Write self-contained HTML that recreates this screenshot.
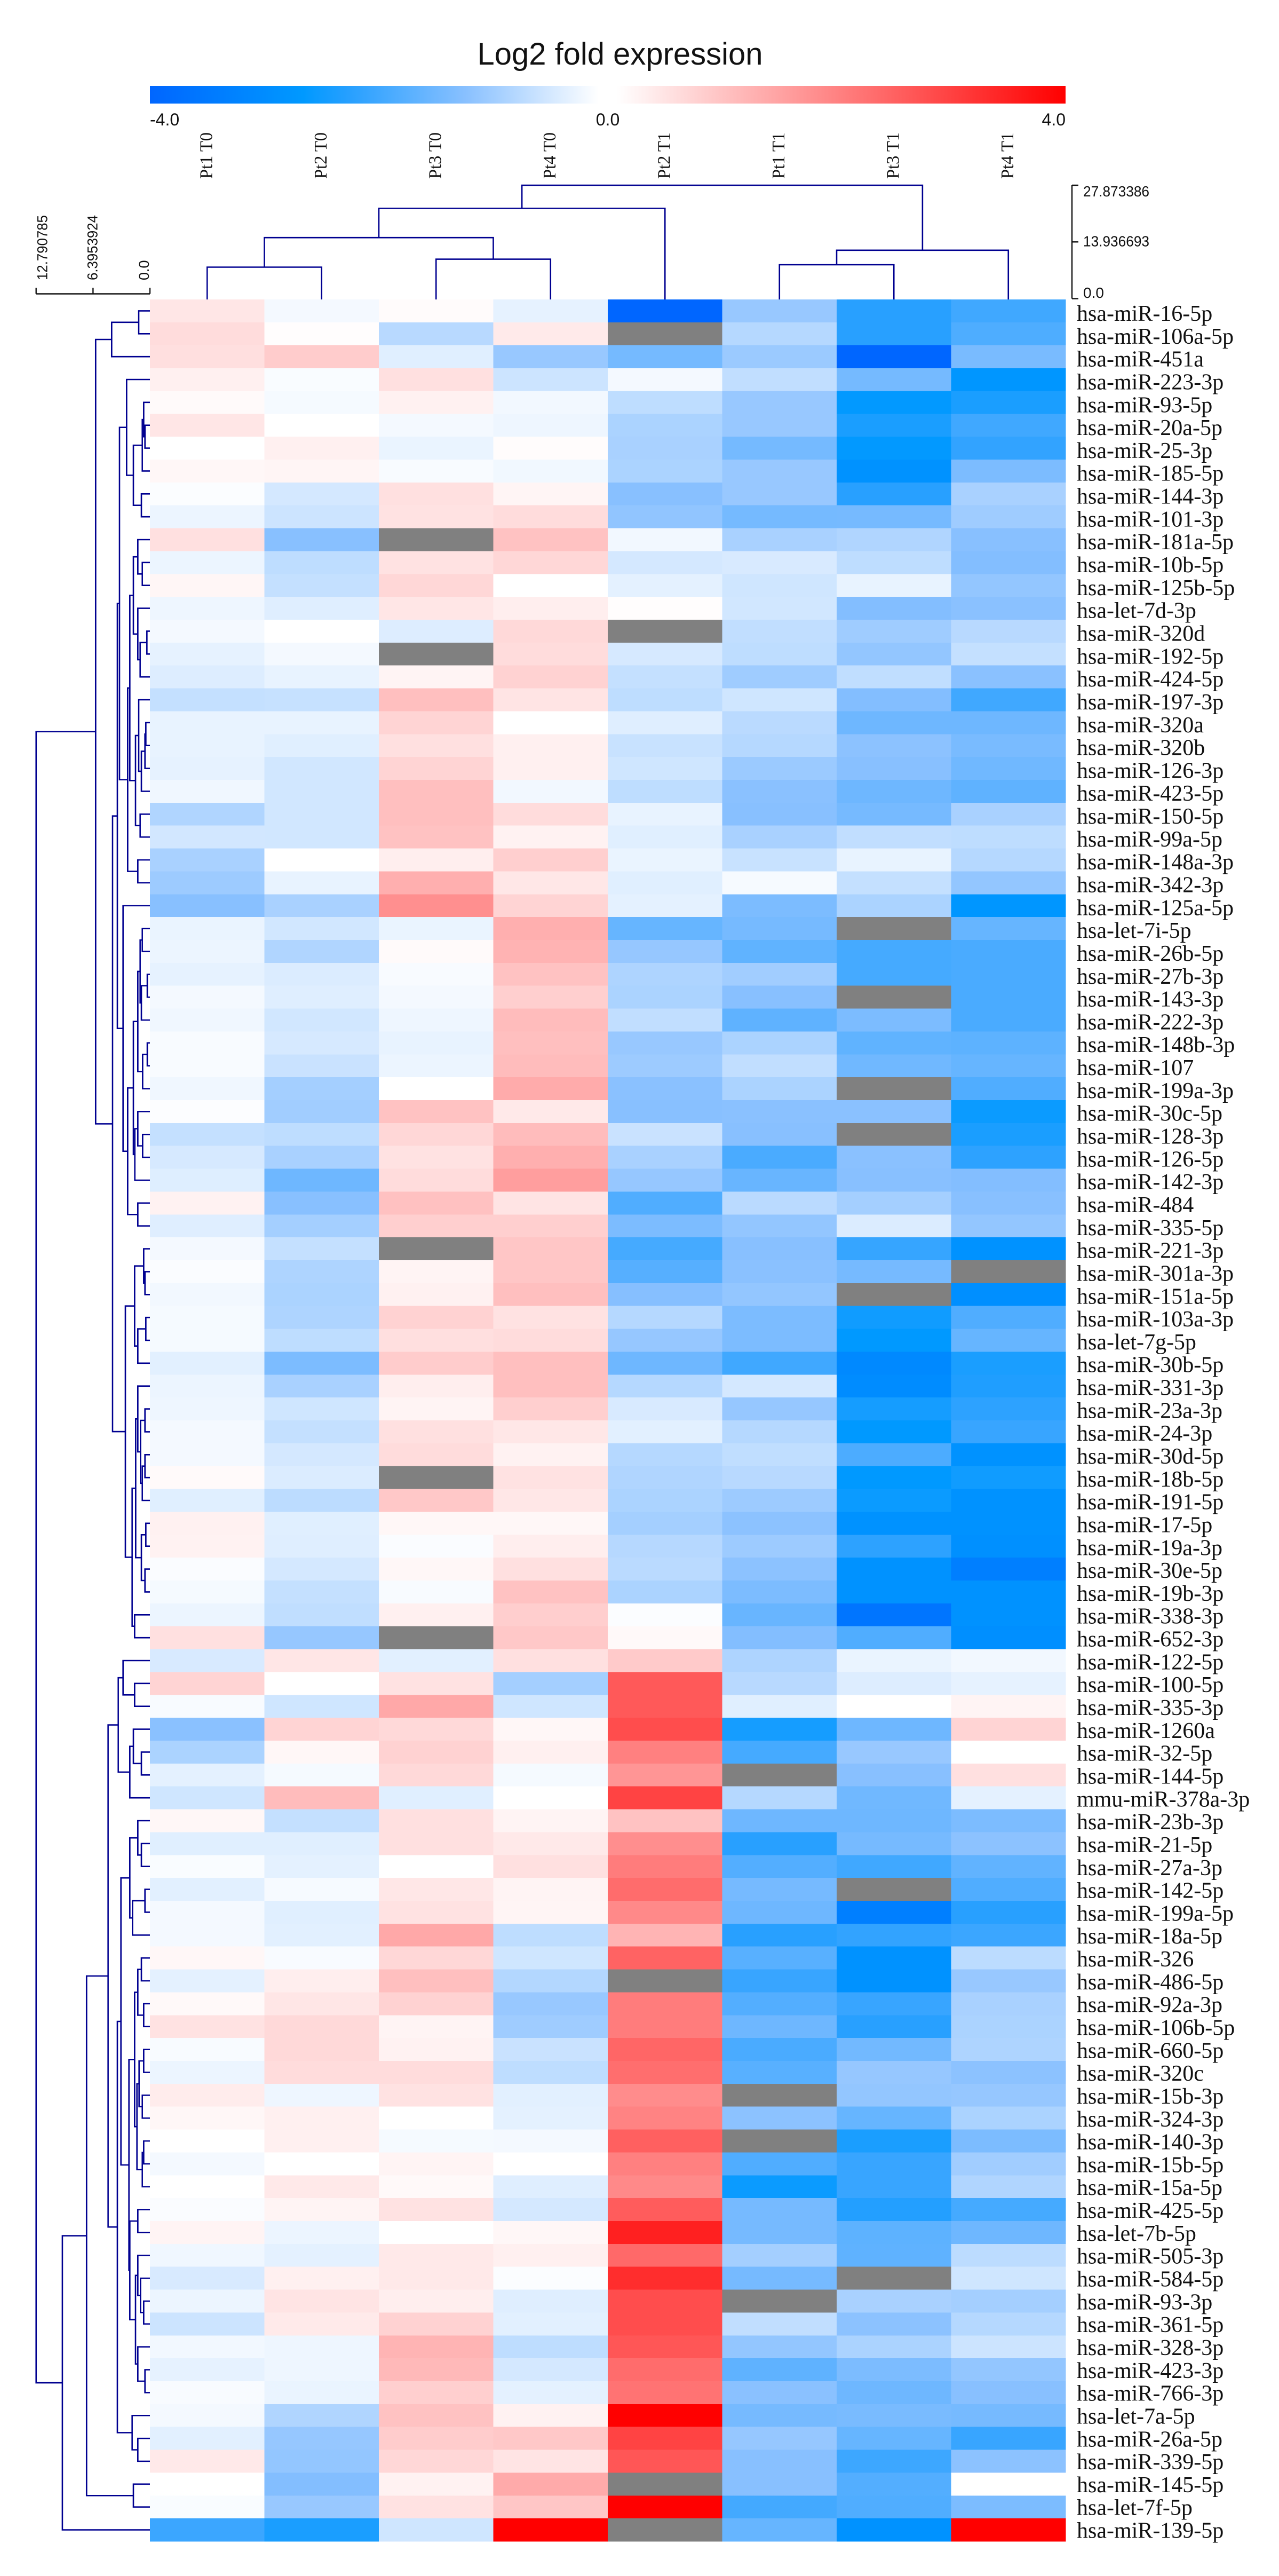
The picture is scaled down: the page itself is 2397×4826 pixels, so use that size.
<!DOCTYPE html>
<html lang="en">
<head>
<meta charset="utf-8">
<title>Log2 fold expression heatmap</title>
<style>
html,body{margin:0;padding:0;background:#fff;}
body{width:2397px;height:4826px;overflow:hidden;}
svg{display:block;}
.sans{font-family:"Liberation Sans",sans-serif;fill:#111;}
.serif{font-family:"Liberation Serif",serif;fill:#111;}
.tree{fill:none;stroke:#000090;stroke-width:2.6;stroke-linejoin:miter;}
.axis{fill:none;stroke:#111;stroke-width:2.4;}
</style>
</head>
<body>
<svg id="chart" xmlns="http://www.w3.org/2000/svg" width="2397" height="4826" viewBox="0 0 2397 4826">
  <defs>
    <linearGradient id="legendRamp" x1="0" x2="1" y1="0" y2="0">
      <stop offset="0" stop-color="#0066ff"/>
      <stop offset="0.167" stop-color="#0099ff"/>
      <stop offset="0.219" stop-color="#28a0ff"/>
      <stop offset="0.344" stop-color="#88c0ff"/>
      <stop offset="0.49" stop-color="#ffffff"/>
      <stop offset="0.51" stop-color="#ffffff"/>
      <stop offset="1" stop-color="#ff0000"/>
    </linearGradient>
  </defs>
  <text class="sans" x="1162" y="121" font-size="58" text-anchor="middle" textLength="535" lengthAdjust="spacingAndGlyphs">Log2 fold expression</text>
  <rect x="281" y="161" width="1716" height="33" fill="url(#legendRamp)"/>
  <g id="legendLabels"></g>
  <g id="colLabelLayer"></g>
  <g id="colTreeLayer"></g>
  <g id="colAxisLayer"></g>
  <g id="rowAxisLayer"></g>
  <g id="rowTreeLayer"></g>
  <g id="cellLayer" shape-rendering="crispEdges"></g>
  <g id="rowLabelLayer"></g>
</svg>
<script>
const _ = null;

const columnLabels = ["Pt1 T0","Pt2 T0","Pt3 T0","Pt4 T0","Pt2 T1","Pt1 T1","Pt3 T1","Pt4 T1"];

const rowLabels = [
"hsa-miR-16-5p","hsa-miR-106a-5p","hsa-miR-451a","hsa-miR-223-3p","hsa-miR-93-5p","hsa-miR-20a-5p","hsa-miR-25-3p","hsa-miR-185-5p","hsa-miR-144-3p","hsa-miR-101-3p",
"hsa-miR-181a-5p","hsa-miR-10b-5p","hsa-miR-125b-5p","hsa-let-7d-3p","hsa-miR-320d","hsa-miR-192-5p","hsa-miR-424-5p","hsa-miR-197-3p","hsa-miR-320a","hsa-miR-320b",
"hsa-miR-126-3p","hsa-miR-423-5p","hsa-miR-150-5p","hsa-miR-99a-5p","hsa-miR-148a-3p","hsa-miR-342-3p","hsa-miR-125a-5p","hsa-let-7i-5p","hsa-miR-26b-5p","hsa-miR-27b-3p",
"hsa-miR-143-3p","hsa-miR-222-3p","hsa-miR-148b-3p","hsa-miR-107","hsa-miR-199a-3p","hsa-miR-30c-5p","hsa-miR-128-3p","hsa-miR-126-5p","hsa-miR-142-3p","hsa-miR-484",
"hsa-miR-335-5p","hsa-miR-221-3p","hsa-miR-301a-3p","hsa-miR-151a-5p","hsa-miR-103a-3p","hsa-let-7g-5p","hsa-miR-30b-5p","hsa-miR-331-3p","hsa-miR-23a-3p","hsa-miR-24-3p",
"hsa-miR-30d-5p","hsa-miR-18b-5p","hsa-miR-191-5p","hsa-miR-17-5p","hsa-miR-19a-3p","hsa-miR-30e-5p","hsa-miR-19b-3p","hsa-miR-338-3p","hsa-miR-652-3p","hsa-miR-122-5p",
"hsa-miR-100-5p","hsa-miR-335-3p","hsa-miR-1260a","hsa-miR-32-5p","hsa-miR-144-5p","mmu-miR-378a-3p","hsa-miR-23b-3p","hsa-miR-21-5p","hsa-miR-27a-3p","hsa-miR-142-5p",
"hsa-miR-199a-5p","hsa-miR-18a-5p","hsa-miR-326","hsa-miR-486-5p","hsa-miR-92a-3p","hsa-miR-106b-5p","hsa-miR-660-5p","hsa-miR-320c","hsa-miR-15b-3p","hsa-miR-324-3p",
"hsa-miR-140-3p","hsa-miR-15b-5p","hsa-miR-15a-5p","hsa-miR-425-5p","hsa-let-7b-5p","hsa-miR-505-3p","hsa-miR-584-5p","hsa-miR-93-3p","hsa-miR-361-5p","hsa-miR-328-3p",
"hsa-miR-423-3p","hsa-miR-766-3p","hsa-let-7a-5p","hsa-miR-26a-5p","hsa-miR-339-5p","hsa-miR-145-5p","hsa-let-7f-5p","hsa-miR-139-5p"];

const log2Values = [
[.4,-.12,.07,-.26,-4,-1.08,-2.25,-2],
[.55,.03,-.74,.33,_,-.78,-2.25,-1.85],
[.5,.8,-.32,-1.08,-1.45,-1.05,-4,-1.4],
[.23,-.06,.48,-.53,-.12,-.65,-1.45,-2.75],
[.08,-.1,.22,-.14,-.68,-1.08,-2.65,-2.4],
[.4,0,-.12,-.18,-.88,-1.08,-2.4,-2],
[0,.23,-.22,.05,-.9,-1.45,-2.65,-2.15],
[.12,.15,-.07,-.15,-.88,-1.08,-2.85,-1.37],
[-.04,-.45,.48,.15,-1.25,-1.08,-2.25,-.9],
[-.2,-.53,.45,.55,-1.15,-1.45,-1.43,-1],
[.48,-1.25,_,.95,-.14,-.9,-.83,-1.25],
[-.2,-.68,.45,.63,-.45,-.41,-.68,-1.3],
[.14,-.62,.63,0,-.28,-.5,-.24,-1.13],
[-.18,-.34,.4,.27,.03,-.48,-1.3,-1.22],
[-.12,0,-.36,.6,_,-.65,-1,-.74],
[-.26,-.12,_,.55,-.43,-.68,-1.13,-.62],
[-.36,-.24,.17,.7,-.62,-1,-.66,-1.22],
[-.62,-.6,1,.42,-.68,-.5,-1.3,-2],
[-.24,-.24,.67,0,-.34,-.72,-1.52,-1.52],
[-.24,-.32,.48,.23,-.58,-.78,-1.2,-1.4],
[-.26,-.48,.67,.23,-.5,-1.05,-1.25,-1.5],
[-.16,-.48,1,-.14,-.68,-1.22,-1.52,-1.68],
[-.83,-.48,1,.55,-.24,-1.25,-1.43,-.9],
[-.47,-.48,.95,.2,-.32,-.9,-.65,-.68],
[-.9,0,.27,.75,-.22,-.58,-.24,-.78],
[-1.03,-.24,1.25,.38,-.32,-.09,-.62,-1.13],
[-1.25,-.9,1.75,.67,-.28,-1.37,-.88,-2.75],
[-.22,-.48,-.22,1.25,-1.6,-1.43,_,-1.6],
[-.2,-.83,.08,1.2,-1.1,-1.67,-1.95,-1.9],
[-.26,-.38,-.07,.95,-.85,-.98,-1.95,-1.9],
[-.12,-.34,-.12,.75,-.88,-1.25,_,-1.9],
[-.16,-.48,-.18,1.05,-.65,-1.68,-1.37,-1.9],
[-.07,-.43,-.24,1,-1.08,-.88,-1.67,-1.7],
[-.07,-.57,-.2,1.05,-1.03,-.65,-1.5,-1.6],
[-.16,-.95,0,1.32,-1.22,-.88,_,-1.83],
[-.03,-.98,.95,.35,-1.25,-1.22,-1.22,-2.55],
[-.62,-.68,.63,1.05,-.57,-1.25,_,-2.4],
[-.43,-.9,.45,1.25,-.9,-1.9,-1.22,-2.2],
[-.35,-1.52,.55,1.52,-1.1,-1.58,-1.25,-1.3],
[.2,-1.25,.97,.42,-1.83,-.72,-.95,-1.25],
[-.34,-.95,.75,.75,-1.37,-1.13,-.38,-1.13],
[-.12,-.62,_,.9,-1.95,-1.25,-2.1,-2.85],
[-.05,-.85,.18,.9,-1.77,-1.22,-1.43,_],
[-.14,-.88,.22,1,-1.27,-1.13,_,-2.92],
[-.1,-.85,.7,.45,-.78,-1.37,-2.5,-1.83],
[-.1,-.68,.5,.55,-1.1,-1.37,-2.67,-1.6],
[-.3,-1.37,.8,1,-1.52,-2,-3.1,-2.4],
[-.2,-.9,.27,1,-.78,-.45,-3,-2.35],
[-.18,-.5,.17,.75,-.41,-1.1,-2.45,-2.2],
[-.12,-.62,.48,.38,-.3,-.78,-2.67,-2.08],
[-.12,-.45,.55,.2,-.78,-.66,-1.87,-2.85],
[.08,-.38,_,.45,-.83,-.74,-2.67,-2.5],
[-.32,-.7,.87,.38,-.88,-1.03,-2.55,-2.85],
[.22,-.32,.12,.12,-.95,-1.2,-2.85,-2.85],
[.2,-.34,-.05,.27,-.76,-1.03,-2.2,-2.9],
[-.05,-.45,.12,.48,-.72,-1.2,-2.85,-3.35],
[-.1,-.62,-.07,.95,-.88,-1.37,-2.85,-2.85],
[-.2,-.66,.23,.77,-.04,-1.58,-3.6,-2.85],
[.48,-1.1,_,.87,.1,-1.3,-1.83,-2.92],
[-.41,.4,-.3,.48,.83,-.85,-.22,-.14],
[.67,0,.45,-.95,2.6,-.74,-.36,-.26],
[-.07,-.5,1.37,-.5,2.6,-.32,0,.17],
[-1.22,.67,.6,.12,2.8,-2.45,-1.52,.67],
[-.88,.12,.7,.23,2,-1.95,-1.08,0],
[-.28,-.1,.6,-.1,1.67,_,-1.25,.48],
[-.5,1.05,-.32,0,2.95,-.78,-1.5,-.28],
[.12,-.62,.48,.18,.95,-1.52,-1.52,-1.37],
[-.32,-.32,.48,.35,1.77,-2.25,-1.43,-1.2],
[-.06,-.28,0,.48,2.05,-1.8,-2,-1.65],
[-.3,-.09,.38,.17,2.3,-1.43,_,-1.83],
[-.12,-.32,.45,.15,1.85,-1.52,-3.35,-2.25],
[-.12,-.3,1.37,-.68,1.17,-2.25,-2.15,-2.05],
[.12,-.07,.63,-.5,2.45,-1.75,-2.85,-.7],
[-.28,.27,1,-.8,_,-2.08,-2.85,-1.08],
[.1,.4,.7,-1.08,2.05,-1.8,-2.08,-.9],
[.45,.6,.17,-1,2.05,-1.52,-2.25,-.88],
[-.07,.6,.2,-.57,2.4,-1.9,-1.48,-.85],
[-.2,.55,.55,-.68,2.27,-1.75,-1.1,-1.2],
[.3,-.18,.45,-.3,1.8,_,-1.13,-1.1],
[.12,.23,0,-.28,1.95,-1.2,-1.6,-.88],
[0,.23,-.1,-.12,2.5,_,-2.4,-1.37],
[-.12,0,.17,0,2,-1.83,-2.08,-.98],
[0,.35,.1,-.33,1.85,-2.55,-2.08,-.83],
[-.05,.17,.45,-.45,2.55,-1.43,-2.3,-1.95],
[.17,-.2,0,.12,3.5,-1.43,-1.7,-1.52],
[-.16,-.28,.35,.23,2.35,-.95,-1.68,-.7],
[-.41,.23,.35,-.04,3.3,-1.43,_,-.5],
[-.2,.42,.27,-.34,2.8,_,-.9,-.95],
[-.53,.33,.7,-.3,2.8,-.65,-1.2,-.78],
[-.14,-.18,1.17,-.68,2.65,-1.13,-.88,-.53],
[-.26,-.18,1.1,-.45,2.3,-1.68,-1.37,-1.13],
[-.07,-.22,.75,-.28,2.2,-1.22,-1.52,-1.25],
[-.12,-.83,.95,.2,4,-1.43,-1.4,-1.43],
[-.3,-1.1,.8,.87,2.95,-1.1,-1.6,-2.08],
[.35,-1.13,.63,.42,2.65,-1.25,-2.03,-1.2],
[0,-1.3,.2,1.33,_,-1.25,-1.8,0],
[-.06,-1.08,.45,.9,4,-1.97,-1.83,-1.37],
[-2.05,-2.4,-.5,4,_,-1.6,-2.85,4]
];

const legendTicks = ["-4.0","0.0","4.0"];
const rowAxisTicks = [12.790785, 6.3953924, 0.0];
const rowAxisTickLabels = ["12.790785","6.3953924","0.0"];
const colAxisTicks = [27.873386, 13.936693, 0.0];
const colAxisTickLabels = ["27.873386","13.936693","0.0"];

/* Dendrograms: [merge distance, child, child]; a bare number is a 1-based leaf */
const colTree = [27.873,[22.2,[15,[7.74,1,2],[9.7,3,4]],5],[11.9,[8.33,6,7],8]];

const rowTreeUpper = [6.1,
  [4.3,[1.26,1,2],3],
  [4.2,
    [3.66,
      [3.42,
        [2.62,4,[1.86,[.86,[.7,5,[.56,6,7]],8],[.96,9,10]]],
        [2.5,
          [2.26,
            [1.86,[1.36,11,[.86,12,13]],[1.36,14,[1.1,[.34,15,16],17]]],
            [1.62,[1.26,18,[.96,[.56,[.46,19,20],21],22]],[1.1,23,24]]],
          [1.36,25,26]]],
      [3.02,27,
        [2.5,
          [1.86,
            [1.36,[1.1,[.86,28,29],[.96,[.3,30,31],32]],[.82,[.3,33,34],35]],
            [1.7,[1.36,36,[.82,37,38]],39]],
          [1.36,40,41]]]],
    [2.76,
      [1.72,[.7,42,[.56,43,44]],[1.36,[.46,45,46],47]],
      [2,
        [1.6,[1.36,48,[1.06,[.56,49,50],[.86,[.56,51,52],53]]],[.96,[.46,54,55],[.56,56,57]]],
        [1.72,58,59]]]]];

const rowTreeLower = [9.84,
  [7.12,
    [4.7,
      [3.56,[3.02,60,[1.72,61,62]],[2.26,[1.86,63,[.96,64,65]],66]],
      [3.66,
        [3.26,
          [2.26,[1.36,67,[.96,68,69]],[1.96,[.56,70,71],72]],
          [2.36,
            [1.72,[1.36,[.96,73,74],[.7,75,76]],[1.46,[1.22,[.7,77,78],[.86,79,80]],[.86,[.7,81,82],83]]],
            [2.26,[1.36,84,85],[1.62,[1.36,86,[1.06,87,[.7,88,89]]],[1.36,90,[.56,91,92]]]]]],
        [2,93,[1.36,94,95]]]],
    [1.86,96,97]],
  98];

const rowTree = [12.79, rowTreeUpper, rowTreeLower];

/* ---------- axis functions ---------- */
const heatLeft = 281, heatRight = 1997, heatTop = 561, heatBottom = 4761;
const cellW = (heatRight - heatLeft) / columnLabels.length;
const cellH = (heatBottom - heatTop) / rowLabels.length;
const colX = i => heatLeft + cellW * i;
const colCenter = i => colX(i) + cellW / 2;
const rowY = i => heatTop + cellH * i;
const rowCenter = i => rowY(i) + cellH / 2;
const rowDistX = d => 281 - d * (213.3 / 12.790785);
const colDistY = d => 559.5 - d * (212.5 / 27.873386);

function lerp(a, b, t) { return Math.round(a + (b - a) * t); }
function blueGreen(r) {
  if (r >= 136) return lerp(192, 255, (r - 136) / 119);
  if (r >= 40) return lerp(160, 192, (r - 40) / 96);
  return lerp(153, 160, r / 40);
}
function colorFor(v) {
  if (v === null) return "#808080";
  let r, g, b;
  if (v >= 0) {
    const t = Math.min(v / 4, 1);
    r = 255; g = lerp(255, 0, t); b = lerp(255, 0, t);
  } else if (v > -2.67) {
    const t = -v / 2.67;
    r = lerp(255, 0, t); g = blueGreen(r); b = 255;
  } else {
    const t = Math.min((-v - 2.67) / 1.33, 1);
    r = 0; g = lerp(153, 102, t); b = 255;
  }
  return "rgb(" + r + "," + g + "," + b + ")";
}

const NS = "http://www.w3.org/2000/svg";
function make(tag, parentId) {
  const e = document.createElementNS(NS, tag);
  document.getElementById(parentId).appendChild(e);
  return e;
}

/* ---------- heatmap cells ---------- */
log2Values.forEach(function (row, r) {
  row.forEach(function (v, c) {
    const cell = make("rect", "cellLayer");
    
    
    cell.setAttribute("x", colX(c));
    cell.setAttribute("y", rowY(r));
    cell.setAttribute("width", cellW + 0.5);
    cell.setAttribute("height", cellH + 0.5);
    cell.setAttribute("fill", colorFor(v));
  });
});

/* ---------- row labels ---------- */
rowLabels.forEach(function (label, r) {
  const t = make("text", "rowLabelLayer");
  
  
  t.setAttribute("class", "serif");
  t.setAttribute("x", 2018);
  t.setAttribute("y", 601 + r * 42.82);
  t.setAttribute("font-size", 42);
  t.textContent = label;
});

/* ---------- column labels ---------- */
columnLabels.forEach(function (label, c) {
  const t = make("text", "colLabelLayer");
  
  
  t.setAttribute("class", "serif");
  const bx = colCenter(c) + 9, by = 335;
  t.setAttribute("x", bx);
  t.setAttribute("y", by);
  t.setAttribute("transform", "rotate(-90 " + bx + " " + by + ")");
  t.setAttribute("font-size", 34);
  t.setAttribute("textLength", 87);
  t.setAttribute("lengthAdjust", "spacingAndGlyphs");
  t.textContent = label;
});

/* ---------- legend labels ---------- */
const legendAnchors = ["start", "middle", "end"];
const legendXs = [heatLeft, (heatLeft + heatRight) / 2 , heatRight];
legendTicks.forEach(function (label, i) {
  const t = make("text", "legendLabels");
  
  
  t.setAttribute("class", "sans");
  t.setAttribute("x", legendXs[i]);
  t.setAttribute("y", 235);
  t.setAttribute("font-size", 32);
  t.setAttribute("text-anchor", legendAnchors[i]);
  t.textContent = label;
});

/* ---------- dendrograms ---------- */
function drawRowNode(node) {
  if (typeof node === "number") return { x: heatLeft, y: rowCenter(node - 1) };
  const a = drawRowNode(node[1]);
  const b = drawRowNode(node[2]);
  const x = rowDistX(node[0]);
  const p = make("path", "rowTreeLayer");
  
  
  p.setAttribute("class", "tree");
  p.setAttribute("d", "M" + a.x + " " + a.y + "H" + x + "V" + b.y + "H" + b.x);
  return { x: x, y: (a.y + b.y) / 2 };
}
drawRowNode(rowTree);

function drawColNode(node) {
  if (typeof node === "number") return { x: colCenter(node - 1), y: heatTop };
  const a = drawColNode(node[1]);
  const b = drawColNode(node[2]);
  const y = colDistY(node[0]);
  const p = make("path", "colTreeLayer");
  
  
  p.setAttribute("class", "tree");
  p.setAttribute("d", "M" + a.x + " " + a.y + "V" + y + "H" + b.x + "V" + b.y);
  return { x: (a.x + b.x) / 2, y: y };
}
drawColNode(colTree);

/* ---------- column distance axis (right) ---------- */
const colAxisX = 2009;
const colAxisLine = make("path", "colAxisLayer");


colAxisLine.setAttribute("class", "axis");
colAxisLine.setAttribute("d", "M" + colAxisX + " " + colDistY(colAxisTicks[0]) + "V" + colDistY(colAxisTicks[2]));
const colBaselineOffsets = [21, 8, -1.5];
colAxisTicks.forEach(function (d, i) {
  const y = colDistY(d);
  const tick = make("path", "colAxisLayer");
  
  
  tick.setAttribute("class", "axis");
  tick.setAttribute("d", "M" + colAxisX + " " + y + "H" + 2021);
  const t = make("text", "colAxisLayer");
  
  
  t.setAttribute("class", "sans");
  t.setAttribute("x", 2030);
  t.setAttribute("y", y + colBaselineOffsets[i]);
  t.setAttribute("font-size", 28);
  if (colAxisTickLabels[i].length > 3) {
    t.setAttribute("textLength", 124);
    t.setAttribute("lengthAdjust", "spacingAndGlyphs");
  }
  t.textContent = colAxisTickLabels[i];
});

/* ---------- row distance axis (top-left) ---------- */
const rowAxisY = 550.5;
const rowLabelShift = [21, 8, -2];
const rowAxisLine = make("path", "rowAxisLayer");


rowAxisLine.setAttribute("class", "axis");
rowAxisLine.setAttribute("d", "M" + rowDistX(rowAxisTicks[0]) + " " + rowAxisY + "H" + rowDistX(rowAxisTicks[2]));
rowAxisTicks.forEach(function (d, i) {
  const x = rowDistX(d);
  const tick = make("path", "rowAxisLayer");
  
  
  tick.setAttribute("class", "axis");
  tick.setAttribute("d", "M" + x + " " + rowAxisY + "V" + 539);
  const t = make("text", "rowAxisLayer");
  
  
  t.setAttribute("class", "sans");
  const bx = x + rowLabelShift[i], by = 525;
  t.setAttribute("x", bx);
  t.setAttribute("y", by);
  t.setAttribute("transform", "rotate(-90 " + bx + " " + by + ")");
  t.setAttribute("font-size", 27);
  if (rowAxisTickLabels[i].length > 3) {
    t.setAttribute("textLength", 122);
    t.setAttribute("lengthAdjust", "spacingAndGlyphs");
  }
  t.textContent = rowAxisTickLabels[i];
});
</script>
</body>
</html>
